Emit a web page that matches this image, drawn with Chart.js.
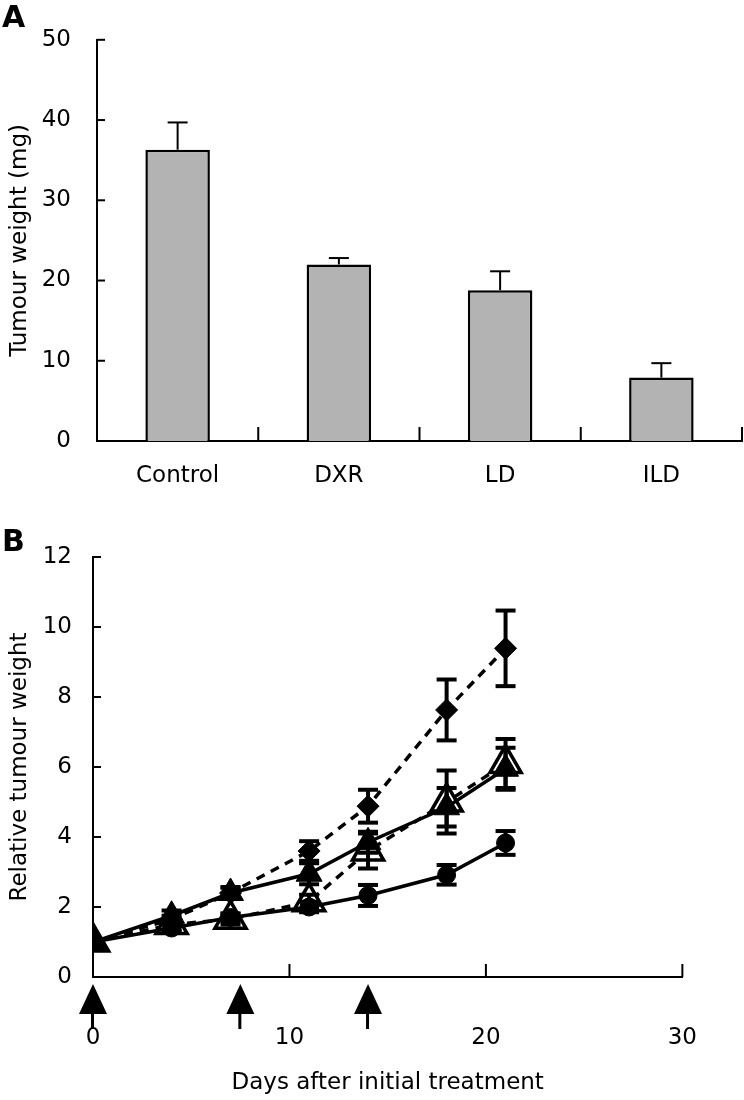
<!DOCTYPE html>
<html>

<head>
  <title>Tumour weight</title>
  <script src="https://cdn.jsdelivr.net/npm/chart.js"></script>
  <style>
    body {
      margin: 0;
      background: #fff;
      font-family: 'DejaVu Sans', sans-serif;
    }

    #page {
      position: relative;
      width: 744px;
      height: 1100px;
    }

    .panel {
      position: absolute;
      left: 0;
      width: 744px;
    }

    #boxA { top: 0; height: 500px; }
    #boxB { top: 520px; height: 580px; }

    .tag {
      position: absolute;
      left: 2px;
      font-size: 30px;
      line-height: 30px;
      font-weight: bold;
    }
  </style>
</head>

<body>
  <div id="page">
    <div class="panel" id="boxA"><canvas id="chartA"></canvas></div>
    <div class="panel" id="boxB"><canvas id="chartB"></canvas></div>
    <div class="tag" style="top:2px">A</div>
    <div class="tag" style="top:526px">B</div>
  </div>

  <script>
    // panel A
    const groups = ['Control', 'DXR', 'LD', 'ILD'];
    const weights = [36.3, 22.0, 18.8, 7.9];
    const weightErr = [3.4, 0.8, 2.35, 1.8];

    // panel B
    const days = [0, 4, 7, 11, 14, 18, 21];
    const control = [1.0, 1.65, 2.4, 3.6, 4.88, 7.63, 9.39];
    const controlErr = [0, 0.1, 0.15, 0.28, 0.47, 0.87, 1.08];
    const dxr = [1.0, 1.75, 2.4, 2.95, 3.85, 4.85, 5.95];
    const dxrErr = [0, 0.15, 0.17, 0.3, 0.3, 0.55, 0.6];
    const ld = [1.0, 1.5, 1.65, 2.15, 3.6, 5.0, 6.1];
    const ldErr = [0, 0.15, 0.15, 0.2, 0.5, 0.9, 0.7];
    const ild = [1.0, 1.4, 1.7, 2.0, 2.33, 2.92, 3.83];
    const ildErr = [0, 0.1, 0.12, 0.15, 0.3, 0.28, 0.34];
    const treatmentDays = [0, 7.5, 14];

    Chart.defaults.font.family = "'DejaVu Sans', sans-serif";
    Chart.defaults.color = '#000';

    function line(ctx, x1, y1, x2, y2) {
      ctx.beginPath();
      ctx.moveTo(x1, y1);
      ctx.lineTo(x2, y2);
      ctx.stroke();
    }

    // ticks that point into the plot, like the original figure
    const inwardTicks = {
      id: 'inwardTicks',
      afterDraw(chart, args, opts) {
        const ctx = chart.ctx, area = chart.chartArea;
        const ys = chart.scales.y, xs = chart.scales.x;
        ctx.save();
        ctx.strokeStyle = '#000';
        ctx.lineWidth = 2;
        ys.ticks.forEach((t, i) => {
          const py = ys.getPixelForTick(i);
          line(ctx, area.left, py, area.left + opts.yLen, py);
        });
        opts.xAt.forEach(v => {
          const px = xs.getPixelForValue(v);
          line(ctx, px, area.bottom, px, area.bottom - opts.xLen);
        });
        ctx.restore();
      }
    };

    const errorBars = {
      id: 'errorBars',
      afterDatasetsDraw(chart, args, opts) {
        const ctx = chart.ctx, ys = chart.scales.y;
        ctx.save();
        ctx.strokeStyle = '#000';
        ctx.lineWidth = opts.width;
        chart.data.datasets.forEach((ds, di) => {
          if (!ds.errors) return;
          const meta = chart.getDatasetMeta(di);
          meta.data.forEach((el, i) => {
            const e = ds.errors[i];
            if (!e) return;
            const v = ds.data[i];
            const top = ys.getPixelForValue(v + e);
            const bot = opts.upOnly ? ys.getPixelForValue(v) : ys.getPixelForValue(v - e);
            line(ctx, el.x, top, el.x, bot);
            line(ctx, el.x - opts.cap, top, el.x + opts.cap, top);
            if (!opts.upOnly) line(ctx, el.x - opts.cap, bot, el.x + opts.cap, bot);
          });
        });
        ctx.restore();
      }
    };

    const arrows = {
      id: 'arrows',
      afterDraw(chart) {
        const ctx = chart.ctx, xs = chart.scales.x, base = chart.chartArea.bottom;
        ctx.save();
        ctx.fillStyle = '#000';
        treatmentDays.forEach(d => {
          const px = xs.getPixelForValue(d);
          ctx.beginPath();
          ctx.moveTo(px, base + 7);
          ctx.lineTo(px + 14, base + 37);
          ctx.lineTo(px - 14, base + 37);
          ctx.closePath();
          ctx.fill();
          ctx.fillRect(px - 2, base + 36, 3, 16);
        });
        ctx.restore();
      }
    };

    const tickFont = { size: 23 };
    const titleFont = { size: 23 };
    const axisBorder = { display: true, color: '#000', width: 2 };

    new Chart(document.getElementById('chartA'), {
      type: 'bar',
      data: {
        labels: groups,
        datasets: [{
          data: weights,
          errors: weightErr,
          backgroundColor: '#b3b3b3',
          borderColor: '#000',
          borderWidth: 2.5,
          borderSkipped: 'start',
          categoryPercentage: 1,
          barPercentage: 0.4
        }]
      },
      options: {
        responsive: true,
        maintainAspectRatio: false,
        animation: false,
        layout: { padding: { left: 4, right: 2, top: 30, bottom: 0 } },
        plugins: {
          legend: { display: false },
          tooltip: { enabled: false },
          errorBars: { width: 2, cap: 10, upOnly: true },
          inwardTicks: { yLen: 8, xLen: 14, xAt: groups.map((g, i) => i + 0.5) }
        },
        scales: {
          x: {
            offset: true,
            grid: { display: false, drawTicks: false },
            border: axisBorder,
            ticks: { font: tickFont, padding: 21 },
            afterFit: s => { s.height = 59; }
          },
          y: {
            min: 0,
            max: 50,
            grid: { display: false, drawTicks: false },
            border: axisBorder,
            ticks: { stepSize: 10, font: tickFont, padding: 26 },
            title: { display: true, text: 'Tumour weight (mg)', font: titleFont, padding: { top: 2, bottom: 0 } },
            afterFit: s => { s.width = 93; }
          }
        }
      },
      plugins: [errorBars, inwardTicks]
    });

    new Chart(document.getElementById('chartB'), {
      type: 'line',
      data: {
        labels: days,
        datasets: [
          {
            data: control,
            errors: controlErr,
            borderColor: '#000',
            borderWidth: 3.5,
            borderDash: [9, 7],
            pointStyle: 'rectRot',
            pointRadius: 11,
            pointBackgroundColor: '#000',
            pointBorderColor: '#000',
            pointBorderWidth: 1
          },
          {
            data: ild,
            errors: ildErr,
            borderColor: '#000',
            borderWidth: 3.5,
            pointStyle: 'circle',
            pointRadius: 9,
            pointBackgroundColor: '#000',
            pointBorderColor: '#000',
            pointBorderWidth: 1
          },
          {
            data: dxr,
            errors: dxrErr,
            borderColor: '#000',
            borderWidth: 3.5,
            pointStyle: 'triangle',
            pointRadius: 15,
            pointBackgroundColor: '#000',
            pointBorderColor: '#000',
            pointBorderWidth: 1
          },
          {
            data: ld,
            errors: ldErr,
            borderColor: '#000',
            borderWidth: 3.5,
            borderDash: [9, 7],
            pointStyle: 'triangle',
            pointRadius: 18,
            pointBackgroundColor: '#fff',
            pointBorderColor: '#000',
            pointBorderWidth: 3.5
          }
        ]
      },
      options: {
        responsive: true,
        maintainAspectRatio: false,
        animation: false,
        layout: { padding: { left: 4, right: 37, top: 37, bottom: 0 } },
        plugins: {
          legend: { display: false },
          tooltip: { enabled: false },
          errorBars: { width: 4, cap: 10, upOnly: false },
          inwardTicks: { yLen: 8, xLen: 13, xAt: [10, 20, 30] }
        },
        scales: {
          x: {
            type: 'linear',
            min: 0,
            max: 30,
            grid: { display: false, drawTicks: false },
            border: axisBorder,
            ticks: { stepSize: 10, font: tickFont, padding: 47 },
            title: { display: true, text: 'Days after initial treatment', font: titleFont, padding: { top: 0, bottom: 3 } },
            afterFit: s => { s.height = 123; }
          },
          y: {
            min: 0,
            max: 12,
            grid: { display: false, drawTicks: false },
            border: axisBorder,
            ticks: { stepSize: 2, font: tickFont, padding: 21 },
            title: { display: true, text: 'Relative tumour weight', font: titleFont, padding: { top: 2, bottom: 0 } },
            afterFit: s => { s.width = 89; }
          }
        }
      },
      plugins: [errorBars, inwardTicks, arrows]
    });
  </script>
</body>

</html>
